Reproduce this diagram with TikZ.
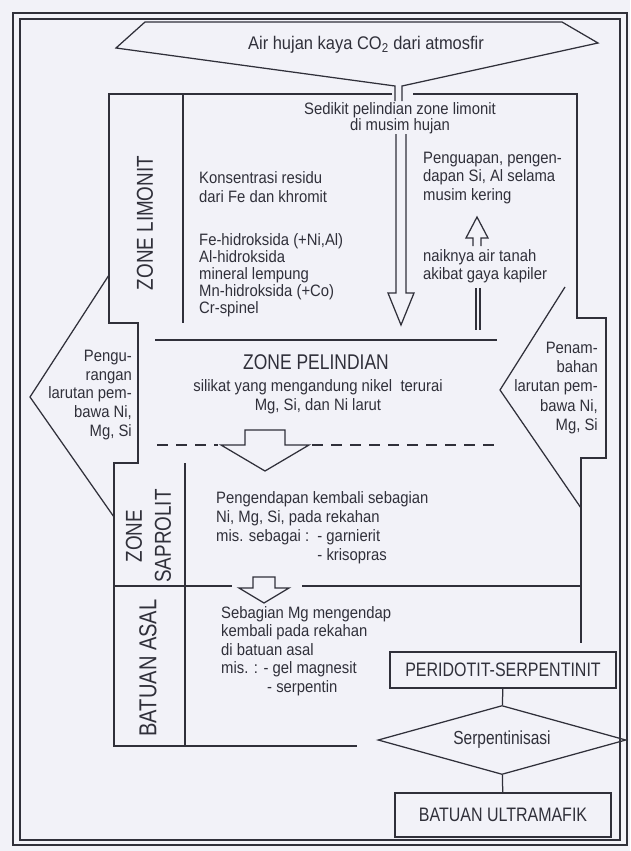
\documentclass[tikz,border=0pt]{standalone}
\usepackage{fontspec}
\setmainfont{Liberation Sans}[FakeStretch=0.9]
\newfontfamily\labelfont{Liberation Sans}[FakeStretch=0.82]
\usepackage{tikz}
\usetikzlibrary{shapes.geometric}
\definecolor{ink}{RGB}{48,48,58}
\definecolor{paper}{RGB}{242,242,248}
\newcommand{\drawthin}{\draw[line width=1.25pt]}
\newcommand{\drawthick}{\draw[line width=2.6pt]}
% hollow block arrow: centre x, shaft half width, head half width, top, base of head, tip
\newcommand{\hollowarrow}[6]{
  \drawthin (#1-#2,#4)--(#1+#2,#4)--(#1+#2,#5)--(#1+#3,#5)--(#1,#6)--(#1-#3,#5)--(#1-#2,#5)--cycle;
}
\tikzset{
  bodytext/.style={inner sep=0pt, font=\fontsize{16.5}{18.5}\selectfont},
  zonetext/.style={inner sep=0pt, rotate=90, align=center, font=\labelfont\fontsize{23}{29}\selectfont},
  rockbox/.style={draw, line width=1.25pt, inner sep=0pt, font=\labelfont\fontsize{19.5}{22}\selectfont},
}
\begin{document}
\begin{tikzpicture}[x=1pt,y=-1pt,color=ink]
\fill[paper] (0,0) rectangle (630,851);
\useasboundingbox (0,0) rectangle (630,851);
% frame
\drawthick (13,13) rectangle (627,845);
\draw[line width=1.2pt] (20,19) rectangle (620,840);
% funnel of rain water
\drawthin (395,101)--(395,86)--(116,48)--(145,22)--(562,22)--(598,43)--(402,86)--(402,101);
% outline of the zones
\drawthin (392,94)--(109,94)--(109,323)--(138,323)--(138,463)--(114,463)--(114,746)--(357,746);
\drawthin (413,94)--(577,94)--(577,318)--(606,318)--(606,458)--(581,458)--(581,643);
\drawthin (183,94)--(183,323);
\drawthin (185,463)--(185,746);
\drawthin (109,275)--(30,397)--(114,517);
\drawthin (565,287)--(500,390)--(581,508);
\drawthin (155,340)--(497,340);
\draw[line width=1.25pt, dash pattern=on 11pt off 8pt] (157,445)--(218,445) (312,445)--(498,445);
\drawthin (114,586)--(232,586);
\drawthin (302,586)--(581,586);
% arrows
\hollowarrow{265}{20}{44}{430}{445}{471}
\hollowarrow{264}{11}{25}{577}{588}{603}
\drawthin (396,134)--(396,293)--(388,293)--(401,325)--(414,293)--(406,293)--(406,134);
\drawthin (473,246)--(473,238)--(466,238)--(477,217)--(488,238)--(481,238)--(481,246);
\drawthin (476,288)--(476,330);
\drawthin (480,288)--(480,330);
% texts
\node[bodytext, font=\fontsize{18.3}{20}\selectfont] (air) at (366,45) {Air hujan kaya CO\textsubscript{2} dari atmosfir};
\node[bodytext, align=center, font=\fontsize{16.5}{16.5}\selectfont] (sedikit) at (400,118) {Sedikit pelindian zone limonit\\di musim hujan};
\node[bodytext, align=left, anchor=west] (residu) at (199,187) {Konsentrasi residu\\dari Fe dan khromit};
\node[bodytext, align=left, anchor=west, font=\fontsize{16.5}{17}\selectfont] (mineral) at (199,275) {Fe-hidroksida (+Ni,Al)\\Al-hidroksida\\mineral lempung\\Mn-hidroksida (+Co)\\Cr-spinel};
\node[bodytext, align=left, anchor=west] (penguapan) at (423,178) {Penguapan, pengen-\\dapan Si, Al selama\\musim kering};
\node[bodytext, align=left, anchor=west] (naiknya) at (423,266) {naiknya air tanah\\akibat gaya kapiler};
\node[bodytext, font=\labelfont\fontsize{21.3}{24}\selectfont] (pelindian) at (316,362) {ZONE PELINDIAN};
\node[bodytext, align=center, font=\fontsize{16.5}{19}\selectfont] (silikat) at (318,397) {silikat yang mengandung nikel\ \ terurai\\Mg, Si, dan Ni larut};
\node[bodytext, align=left, anchor=west, font=\fontsize{16.5}{19}\selectfont] (endapan) at (216,528) {Pengendapan kembali sebagian\\Ni, Mg, Si, pada rekahan\\mis. sebagai :\ \ - garnierit\\\hphantom{mis. sebagai :\ \ }- krisopras};
\node[bodytext, align=left, anchor=west] (mgendap) at (221,651) {Sebagian Mg mengendap\\kembali pada rekahan\\di batuan asal\\mis. : - gel magnesit\\\hspace*{46pt}- serpentin};
\node[bodytext, align=right, anchor=east, font=\fontsize{16.5}{18.75}\selectfont] (kurang) at (132,395) {Pengu-\\rangan\\larutan pem-\\bawa Ni,\\Mg, Si};
\node[bodytext, align=right, anchor=east, font=\fontsize{16.5}{19.25}\selectfont] (tambah) at (598,388) {Penam-\\bahan\\larutan pem-\\bawa Ni,\\Mg, Si};
\node[zonetext] (limonit) at (145,223) {ZONE LIMONIT};
\node[zonetext] (saprolit) at (148.5,536) {ZONE\\SAPROLIT};
\node[zonetext, font=\labelfont\fontsize{24.5}{29}\selectfont] (asal) at (148,668) {BATUAN ASAL};
% rock sequence
\node[rockbox, minimum width=226pt, minimum height=36pt] (peridotit) at (503,670) {PERIDOTIT-SERPENTINIT};
\node[rockbox, shape=diamond, aspect=3.6, minimum width=248pt, minimum height=69pt, font=\labelfont\fontsize{18.9}{21}\selectfont] (serpentinisasi) at (502,740) {Serpentinisasi};
\node[rockbox, minimum width=216pt, minimum height=44pt] (ultramafik) at (503,815) {BATUAN ULTRAMAFIK};
\drawthin (peridotit) -- (serpentinisasi);
\drawthin (serpentinisasi) -- (ultramafik);
\end{tikzpicture}
\end{document}
